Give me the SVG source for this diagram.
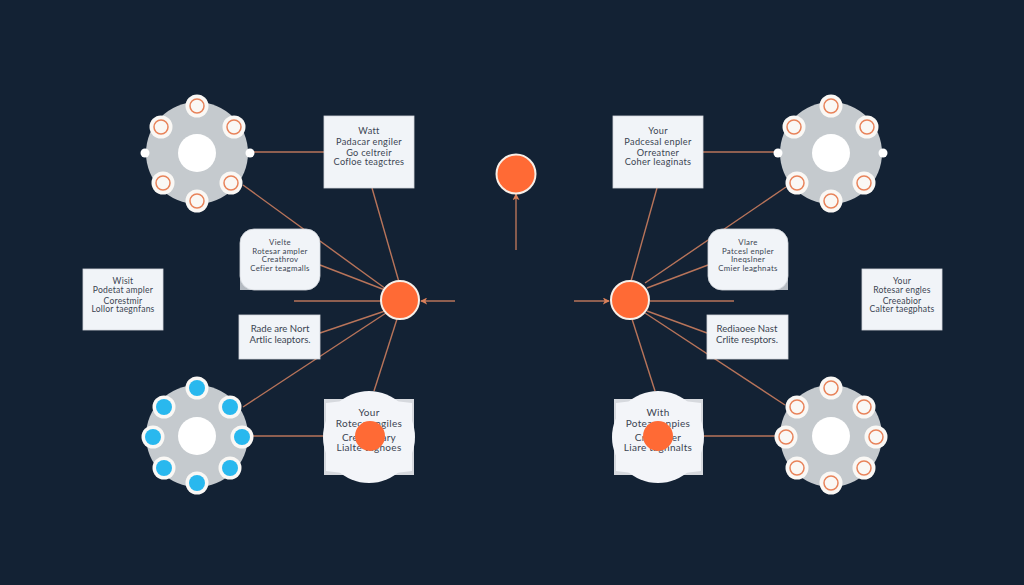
<svg xmlns="http://www.w3.org/2000/svg" width="1024" height="585" viewBox="0 0 1024 585">
<style>
.bg{fill:#132234}
.box{fill:#f1f4f8;stroke:#d4d8dd;stroke-width:.8}
.sq{fill:#d6d9de}
.blob{fill:#f3f5f9}
.rim{fill:#c5cace}
.hole{fill:#fff}
.pod{fill:#faf8f5}
.ring{fill:none;stroke:#e8835a;stroke-width:1.5}
.blue{fill:#29b8ee}
.hub{fill:#ff6a35;stroke:#f7efe8;stroke-width:2}
.dot{fill:#ff6a35}
.corner{fill:#b4bac1}
.wire{fill:none;stroke:#b8745a;stroke-width:1.4}
.arr{fill:none;stroke:#b8745a;stroke-width:1.4;marker-end:url(#head)}
text{font-family:"Lato","Open Sans","Liberation Sans",sans-serif;font-size:9.2px;letter-spacing:.3px;fill:#3b4452;text-anchor:middle}
.big{font-size:10px}
.mid{font-size:9.600px;letter-spacing:0}
.small{font-size:8.600px;letter-spacing:.2px}
.tiny{font-size:7.800px;letter-spacing:.3px}
</style>
<defs>
<marker id="head" viewBox="0 0 8 8" refX="7" refY="4" markerWidth="7" markerHeight="7" markerUnits="userSpaceOnUse" orient="auto"><path d="M0 0L8 4L0 8L2 4Z" fill="#d9805a"/></marker>
<g id="pod-ring"><circle r="11.500" class="pod"/><circle r="7" class="ring"/></g>
<g id="pod-blue"><circle r="11.500" class="pod"/><circle r="8" class="blue"/></g>
</defs>
<rect class="bg" width="1024" height="585"/>
<g id="connectors">
<path class="wire" d="M250 152H324"/>
<path class="wire" d="M372 188L399 282"/>
<path class="wire" d="M243 185L386 289"/>
<path class="wire" d="M320 265L385 290"/>
<path class="wire" d="M294 301H381"/>
<path class="arr" d="M455 301H421"/>
<path class="wire" d="M320 333L385 311"/>
<path class="wire" d="M243 407L386 313"/>
<path class="wire" d="M397 319L374 391"/>
<path class="wire" d="M253 436H324"/>
<path class="wire" d="M703 152H775"/>
<path class="wire" d="M657 188L631 281"/>
<path class="wire" d="M786 187L645 283"/>
<path class="wire" d="M708 265L647 288"/>
<path class="wire" d="M650 301H734"/>
<path class="arr" d="M574 301H609"/>
<path class="wire" d="M707 333L647 311"/>
<path class="wire" d="M785 405L645 313"/>
<path class="wire" d="M632 319L655 391"/>
<path class="wire" d="M703 436H775"/>
<path class="arr" d="M516 250V194"/>
</g>
<g id="wheel-tl"><circle cx="197" cy="153" r="51" class="rim"/><circle cx="197" cy="153" r="19" class="hole"/><circle cx="145" cy="153" r="4.500" class="hole"/><circle cx="250" cy="153" r="4.500" class="hole"/>
<use href="#pod-ring" x="197" y="106"/><use href="#pod-ring" x="161" y="127"/><use href="#pod-ring" x="234" y="127"/><use href="#pod-ring" x="163" y="183"/><use href="#pod-ring" x="231" y="183"/><use href="#pod-ring" x="197" y="201"/></g>
<g id="wheel-tr"><circle cx="831" cy="153" r="51" class="rim"/><circle cx="831" cy="153" r="19" class="hole"/><circle cx="778" cy="153" r="4.500" class="hole"/><circle cx="883" cy="153" r="4.500" class="hole"/>
<use href="#pod-ring" x="831" y="106"/><use href="#pod-ring" x="794" y="127"/><use href="#pod-ring" x="867" y="127"/><use href="#pod-ring" x="797" y="183"/><use href="#pod-ring" x="864" y="183"/><use href="#pod-ring" x="831" y="201"/></g>
<g id="wheel-bl"><circle cx="197" cy="436" r="51" class="rim"/><circle cx="197" cy="436" r="19" class="hole"/>
<use href="#pod-blue" x="197" y="388"/><use href="#pod-blue" x="164" y="407"/><use href="#pod-blue" x="230" y="407"/><use href="#pod-blue" x="153" y="437"/><use href="#pod-blue" x="242" y="437"/><use href="#pod-blue" x="164" y="468"/><use href="#pod-blue" x="230" y="468"/><use href="#pod-blue" x="197" y="483"/></g>
<g id="wheel-br"><circle cx="831" cy="436" r="51" class="rim"/><circle cx="831" cy="436" r="19" class="hole"/>
<use href="#pod-ring" x="831" y="388"/><use href="#pod-ring" x="797" y="407"/><use href="#pod-ring" x="864" y="407"/><use href="#pod-ring" x="786" y="437"/><use href="#pod-ring" x="876" y="437"/><use href="#pod-ring" x="797" y="468"/><use href="#pod-ring" x="864" y="468"/><use href="#pod-ring" x="831" y="483"/></g>
<g id="box-tl"><rect x="324" y="116" width="90" height="72" class="box"/><text x="369" y="134">Watt</text><text x="369" y="144.500">Padacar engiler</text><text x="369" y="155.500">Go celtreir</text><text x="369" y="165">Cofloe teagctres</text></g>
<g id="box-tr"><rect x="613" y="116" width="90" height="72" class="box"/><text x="658" y="134">Your</text><text x="658" y="144.500">Padcesal enpler</text><text x="658" y="155.500">Orreatner</text><text x="658" y="165">Coher leaginats</text></g>
<g id="box-ml"><rect x="83" y="269" width="80" height="61" class="box"/><text class="small" x="123" y="284">Wisit</text><text class="small" x="123" y="293">Podetat ampler</text><text class="small" x="123" y="303.500">Corestmir</text><text class="small" x="123" y="312">Lollor taegnfans</text></g>
<g id="box-mr"><rect x="862" y="269" width="80" height="61" class="box"/><text class="small" x="902" y="284">Your</text><text class="small" x="902" y="293">Rotesar engles</text><text class="small" x="902" y="303.500">Creeabior</text><text class="small" x="902" y="312">Calter taegphats</text></g>
<g id="round-l"><path class="corner" d="M240 270V290H262Z"/><rect x="240" y="229" width="80" height="61" rx="14" class="box"/><text class="tiny" x="280" y="245">Vielte</text><text class="tiny" x="280" y="253.500">Rotesar ampler</text><text class="tiny" x="280" y="262">Creathrov</text><text class="tiny" x="280" y="270.500">Cefier teagmalls</text></g>
<g id="round-r"><path class="corner" d="M788 270V290H766Z"/><rect x="708" y="229" width="80" height="61" rx="14" class="box"/><text class="tiny" x="748" y="245">Vlare</text><text class="tiny" x="748" y="253.500">Patcesl enpler</text><text class="tiny" x="748" y="262">Ineqslner</text><text class="tiny" x="748" y="270.500">Cmier leaghnats</text></g>
<g id="box-cl"><rect x="239" y="315" width="81" height="44" class="box"/><text x="280" y="332" class="mid">Rade are Nort</text><text x="280" y="342.500" class="mid">Artlic leaptors.</text></g>
<g id="box-cr"><rect x="707" y="315" width="81" height="44" class="box"/><text x="747" y="332" class="mid">Rediaoee Nast</text><text x="747" y="342.500" class="mid">Crlite resptors.</text></g>
<g id="blob-l"><rect x="324" y="399" width="90" height="76" class="sq"/><circle cx="369" cy="437" r="46" class="blob"/><path class="blob" d="M326 403Q369 396 412 403V471Q369 478 326 471Z"/><text x="369" y="416" class="big">Your</text><text x="369" y="427" class="big">Rotecs angiles</text><text x="369" y="441" class="big">Createlbary</text><text x="369" y="451" class="big">Lialte taghoes</text><circle cx="370" cy="436" r="15" class="dot"/></g>
<g id="blob-r"><rect x="614" y="399" width="89" height="76" class="sq"/><circle cx="658" cy="437" r="46" class="blob"/><path class="blob" d="M616 403Q658 396 701 403V471Q658 478 616 471Z"/><text x="658" y="416" class="big">With</text><text x="658" y="427" class="big">Poteas enpies</text><text x="658" y="441" class="big">Createner</text><text x="658" y="451" class="big">Liare taghnalts</text><circle cx="658" cy="436" r="15" class="dot"/></g>
<g id="hub-l"><circle cx="400" cy="300" r="19" class="hub"/></g>
<g id="hub-r"><circle cx="630" cy="300" r="19" class="hub"/></g>
<g id="hub-top"><circle cx="516" cy="174" r="19.500" class="hub"/></g>
</svg>
